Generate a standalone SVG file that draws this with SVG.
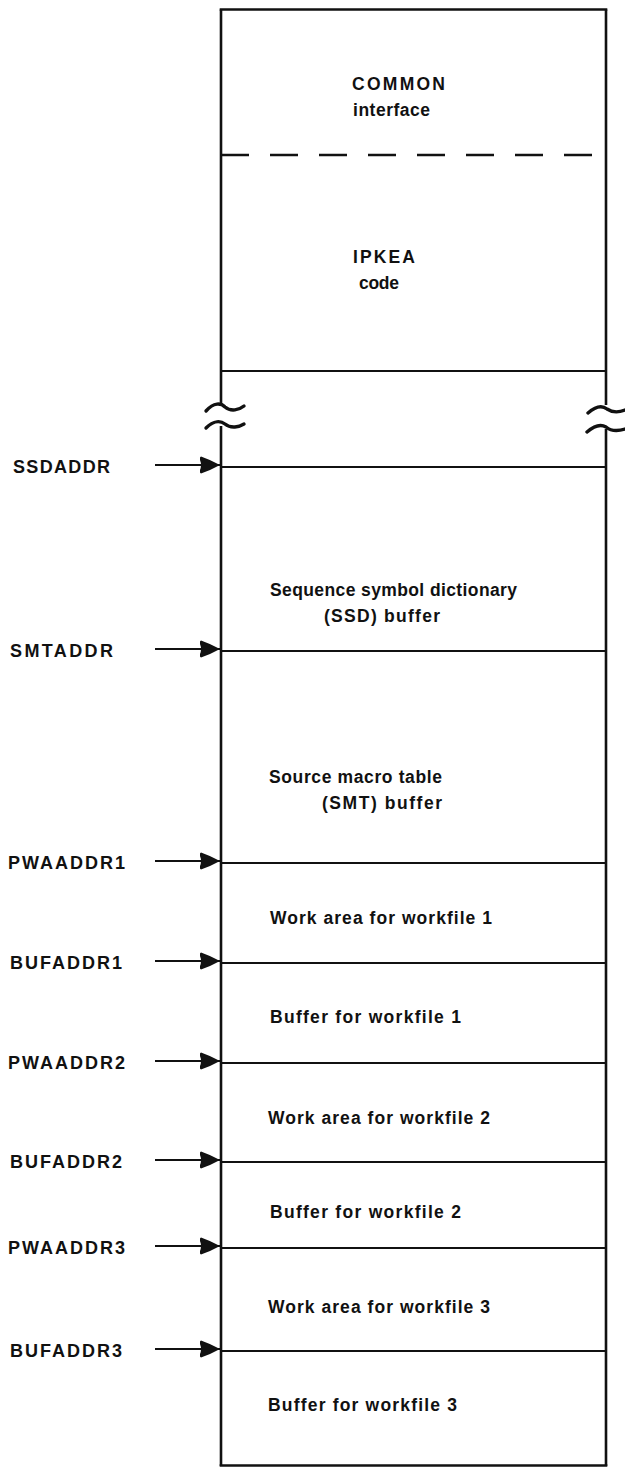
<svg xmlns="http://www.w3.org/2000/svg" width="625" height="1469" viewBox="0 0 625 1469">
  <defs>
    <style>
      .edge{stroke:#111;stroke-width:2.6;fill:none;stroke-linecap:butt}
      .div{stroke:#111;stroke-width:2.2;fill:none}
      .dash{stroke:#111;stroke-width:2.6;fill:none;stroke-dasharray:28 21}
      .wave{stroke:#111;stroke-width:3.4;fill:none;stroke-linecap:round}
      .lab{font-family:"Liberation Sans",Arial,sans-serif;font-weight:bold;font-size:18px;fill:#111}
      .txt{font-family:"Liberation Sans",Arial,sans-serif;font-weight:bold;font-size:17.5px;fill:#111}
      .arr{stroke:#111;stroke-width:2.2;fill:none}
    </style>
    <marker id="ah" markerUnits="userSpaceOnUse" markerWidth="22" markerHeight="20" refX="20" refY="10" orient="auto">
      <path d="M1,1.5 Q11,5 20,10 Q11,15 1,18.5 Q-1,17 0,15 Q2,10 0,5 Q-1,3 1,1.5 Z" fill="#111"/>
    </marker>
  </defs>

  <g id="memory-box">
    <line class="edge" x1="219.7" y1="9.5" x2="607.3" y2="9.5"/>
    <line class="edge" x1="221" y1="9.5" x2="221" y2="404"/>
    <line class="edge" x1="221" y1="426" x2="221" y2="1466"/>
    <line class="edge" x1="606" y1="9.5" x2="606" y2="405"/>
    <line class="edge" x1="606" y1="429" x2="606" y2="1466"/>
    <line class="edge" x1="219.7" y1="1465.5" x2="607.3" y2="1465.5"/>
    <path class="wave" d="M206,411 C214,402 221,403 225,407 C231,412 239,410 244,406"/>
    <path class="wave" d="M206,428 C214,420 221,421 225,424 C231,429 239,427 244,424"/>
    <path class="wave" d="M588,413 C596,406 602,405 607,409 C613,413 620,412 625,410"/>
    <path class="wave" d="M587,432 C595,425 601,424 606,427 C612,432 619,431 625,429"/>
  </g>

  <g id="common">
    <line class="dash" x1="221" y1="155" x2="600" y2="155"/>
    <text class="txt" x="352" y="90" textLength="93">COMMON</text>
    <text class="txt" x="353" y="116" textLength="77">interface</text>
  </g>

  <g id="ipkea">
    <line class="div" x1="221" y1="371" x2="606" y2="371"/>
    <text class="txt" x="353" y="263" textLength="62">IPKEA</text>
    <text class="txt" x="359" y="289" textLength="40">code</text>
  </g>

  <g id="ssd">
    <line class="div" x1="221" y1="467" x2="606" y2="467"/>
    <text class="txt" x="270" y="596" textLength="247">Sequence symbol dictionary</text>
    <text class="txt" x="324" y="622" textLength="116">(SSD) buffer</text>
  </g>

  <g id="smt">
    <line class="div" x1="221" y1="651" x2="606" y2="651"/>
    <text class="txt" x="269" y="783" textLength="173">Source macro table</text>
    <text class="txt" x="322" y="809" textLength="120">(SMT) buffer</text>
  </g>

  <g id="pwa1">
    <line class="div" x1="221" y1="863" x2="606" y2="863"/>
    <text class="txt" x="270" y="924" textLength="222">Work area for workfile 1</text>
  </g>
  <g id="buf1">
    <line class="div" x1="221" y1="963" x2="606" y2="963"/>
    <text class="txt" x="270" y="1023" textLength="191">Buffer for workfile 1</text>
  </g>
  <g id="pwa2">
    <line class="div" x1="221" y1="1063" x2="606" y2="1063"/>
    <text class="txt" x="268" y="1124" textLength="222">Work area for workfile 2</text>
  </g>
  <g id="buf2">
    <line class="div" x1="221" y1="1162" x2="606" y2="1162"/>
    <text class="txt" x="270" y="1218" textLength="191">Buffer for workfile 2</text>
  </g>
  <g id="pwa3">
    <line class="div" x1="221" y1="1248" x2="606" y2="1248"/>
    <text class="txt" x="268" y="1313" textLength="222">Work area for workfile 3</text>
  </g>
  <g id="buf3">
    <line class="div" x1="221" y1="1351" x2="606" y2="1351"/>
    <text class="txt" x="268" y="1411" textLength="189">Buffer for workfile 3</text>
  </g>

  <g id="pointer-labels">
    <text class="lab" x="13" y="473" textLength="97">SSDADDR</text>
    <text class="lab" x="10" y="657" textLength="103">SMTADDR</text>
    <text class="lab" x="8" y="869" textLength="117">PWAADDR1</text>
    <text class="lab" x="10" y="969" textLength="112">BUFADDR1</text>
    <text class="lab" x="8" y="1069" textLength="117">PWAADDR2</text>
    <text class="lab" x="10" y="1168" textLength="112">BUFADDR2</text>
    <text class="lab" x="8" y="1254" textLength="117">PWAADDR3</text>
    <text class="lab" x="10" y="1357" textLength="112">BUFADDR3</text>
  </g>

  <g id="connectors">
    <line class="arr" x1="155" y1="465" x2="220" y2="465" marker-end="url(#ah)"/>
    <line class="arr" x1="155" y1="649" x2="220" y2="649" marker-end="url(#ah)"/>
    <line class="arr" x1="155" y1="861" x2="220" y2="861" marker-end="url(#ah)"/>
    <line class="arr" x1="155" y1="961" x2="220" y2="961" marker-end="url(#ah)"/>
    <line class="arr" x1="155" y1="1061" x2="220" y2="1061" marker-end="url(#ah)"/>
    <line class="arr" x1="155" y1="1160" x2="220" y2="1160" marker-end="url(#ah)"/>
    <line class="arr" x1="155" y1="1246" x2="220" y2="1246" marker-end="url(#ah)"/>
    <line class="arr" x1="155" y1="1349" x2="220" y2="1349" marker-end="url(#ah)"/>
  </g>
</svg>
